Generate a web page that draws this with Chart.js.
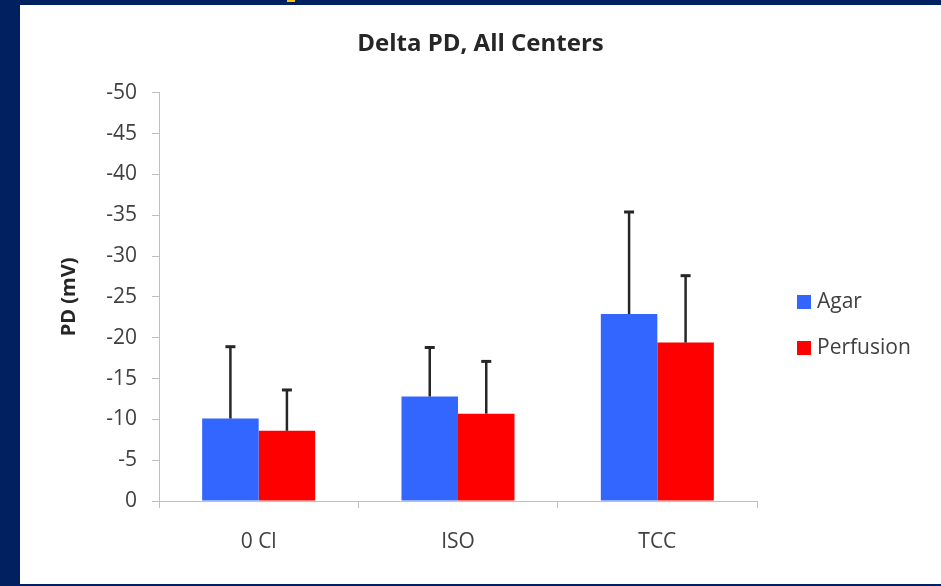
<!DOCTYPE html>
<html>
<head>
<meta charset="utf-8">
<script src="https://cdn.jsdelivr.net/npm/chart.js@4/dist/chart.umd.min.js"></script>
<style>
  html, body { margin: 0; padding: 0; }
  body { width: 941px; height: 586px; background: #002060; position: relative; overflow: hidden; }
  #panel { position: absolute; left: 20px; top: 5px; width: 921px; height: 579px; background: #fff; }
  #mark { position: absolute; left: 287px; top: 0; width: 8px; height: 2px; background: #f5c400; }
</style>
</head>
<body>
<div id="mark"></div>
<div id="panel"><canvas id="chart" width="921" height="579"></canvas></div>
<script>
// values (negative mV, axis drawn reversed)
const categories = ["0 Cl", "ISO", "TCC"];
const agar = [-10.1, -12.8, -22.9];
const perfusion = [-8.6, -10.7, -19.4];
// one-sided error bars (SD), going further negative
const agarErr = [8.8, 6.0, 12.5];
const perfusionErr = [5.0, 6.4, 8.2];
const yTicks = { min: -50, max: 0, step: 5 };

const FONT = "'Open Sans', sans-serif";

const errorBars = {
    id: 'errorBars',
    afterDatasetsDraw(chart) {
        const ctx = chart.ctx;
        const yScale = chart.scales.y;
        chart.data.datasets.forEach((ds, i) => {
            const meta = chart.getDatasetMeta(i);
            meta.data.forEach((bar, j) => {
                const top = yScale.getPixelForValue(ds.data[j] - ds.errors[j]);
                ctx.save();
                ctx.strokeStyle = '#262626';
                ctx.lineWidth = 2.5;
                ctx.beginPath();
                ctx.moveTo(bar.x, bar.y);
                ctx.lineTo(bar.x, top);
                ctx.stroke();
                ctx.lineWidth = 3;
                ctx.beginPath();
                ctx.moveTo(bar.x - 5, top);
                ctx.lineTo(bar.x + 5, top);
                ctx.stroke();
                ctx.restore();
            });
        });
    }
};

// legend on the right, drawn by hand to sit where the original does
const sideLegend = {
    id: 'sideLegend',
    afterDraw(chart) {
        const ctx = chart.ctx;
        const x = chart.chartArea.right + 40;
        let y = 297;
        chart.data.datasets.forEach(ds => {
            ctx.save();
            ctx.fillStyle = ds.backgroundColor;
            ctx.fillRect(x, y - 7, 14, 14);
            ctx.fillStyle = '#404040';
            ctx.font = '21px ' + FONT;
            ctx.textBaseline = 'middle';
            ctx.fillText(ds.label, x + 20, y);
            ctx.restore();
            y += 46;
        });
    }
};

new Chart(document.getElementById('chart'), {
    type: 'bar',
    data: {
        labels: categories,
        datasets: [
            {label: 'Agar', data: agar, errors: agarErr, backgroundColor: '#3366ff'},
            {label: 'Perfusion', data: perfusion, errors: perfusionErr, backgroundColor: '#ff0000'}
        ]
    },
    options: {
        responsive: false,
        animation: false,
        events: [],
        layout: {padding: {top: 9, right: 0, bottom: 0, left: 0}},
        datasets: {bar: {categoryPercentage: 0.567, barPercentage: 1.0}},
        plugins: {
            legend: {display: false},
            tooltip: {enabled: false},
            title: {
                display: true,
                text: 'Delta PD, All Centers',
                color: '#262626',
                font: {family: FONT, size: 24, weight: 'bold'},
                padding: {top: 16, bottom: 34}
            }
        },
        scales: {
            x: {
                afterFit: s => { s.height = 83; },
                border: {display: true, color: '#bfbfbf', width: 1},
                grid: {display: true, drawOnChartArea: false, drawTicks: true, tickLength: 7, color: '#bfbfbf', offset: true},
                ticks: {color: '#404040', font: {family: FONT, size: 21}, padding: 21}
            },
            y: {
                reverse: true,
                min: yTicks.min,
                max: yTicks.max,
                afterFit: s => { s.width = 139; },
                border: {display: true, color: '#bfbfbf', width: 1},
                grid: {display: true, drawOnChartArea: false, drawTicks: true, tickLength: 7, color: '#bfbfbf'},
                ticks: {stepSize: yTicks.step, color: '#404040', font: {family: FONT, size: 21}, padding: 15},
                title: {
                    display: true,
                    text: 'PD (mV)',
                    color: '#262626',
                    font: {family: FONT, size: 20, weight: 'bold'},
                    padding: {top: 37, bottom: 0}
                }
            },
            // empty box on the right that keeps room for the legend
            side: {
                position: 'right',
                type: 'linear',
                display: true,
                afterFit: s => { s.width = 184; },
                border: {display: false},
                grid: {display: false},
                ticks: {display: false}
            }
        }
    },
    plugins: [errorBars, sideLegend]
});
</script>
</body>
</html>
